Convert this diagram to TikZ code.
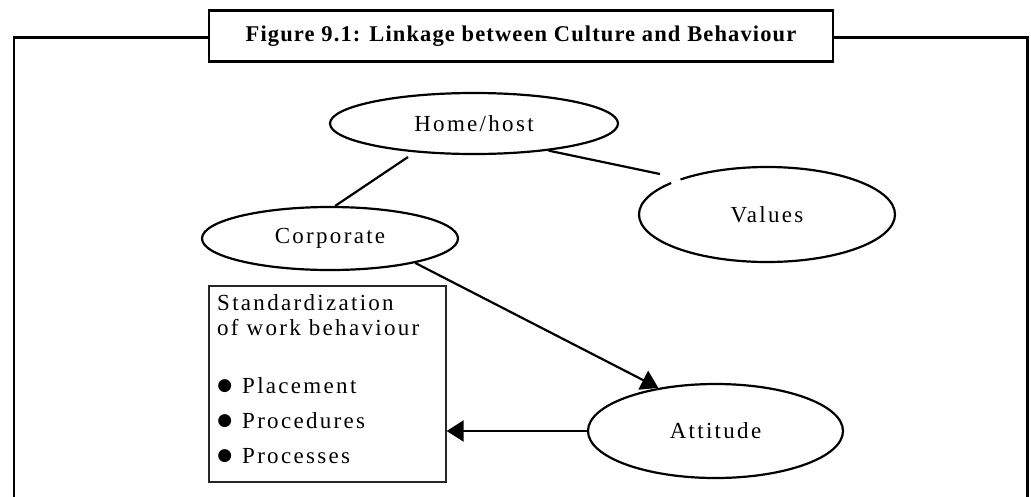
\documentclass[tikz,border=0pt]{standalone}
\usepackage{fontspec}
\setmainfont{Liberation Serif}
\newfontfamily\lblfont[LetterSpace=10]{Liberation Serif}
\newfontfamily\ttlfont[LetterSpace=5]{Liberation Serif}
\newfontfamily\symfont{DejaVu Sans}
\usetikzlibrary{shapes.geometric,arrows.meta}
\newcommand{\bigbul}{\makebox[15pt][c]{\raisebox{2.2pt}{\symfont\fontsize{17}{17}\selectfont ●}}\hspace{10pt}}
\tikzset{
  ell/.style={ellipse, draw, line width=2.2pt, inner sep=0pt, font=\lblfont\fontsize{23}{27}\selectfont},
  conn/.style={line width=2.2pt},
  arr/.style={line width=2.2pt, -{Triangle[length=17pt,width=21pt]}},
  boxtxt/.style={anchor=base west, inner sep=0pt, font=\lblfont\fontsize{23}{27}\selectfont},
  framebox/.style={line width=2.2pt},
}
\begin{document}
\begin{tikzpicture}[x=1pt,y=-1pt]
\useasboundingbox (0,0) rectangle (1031,496);
\clip (0,0) rectangle (1031,496);
% outer frame
\draw[framebox] (14,37.5) rectangle (1027.5,520);
% title box
\node[draw, fill=white, line width=2.6pt, minimum width=624pt, minimum height=51pt, inner sep=0pt,
      font=\ttlfont\bfseries\fontsize{22.5}{26}\selectfont] (title) at (521,36.2)
      {Figure 9.1: Linkage between Culture and Behaviour};
% ellipses
\node[ell, minimum width=288pt, minimum height=61pt] (home) at (474,123.5) {Home/host};
\node[ell, minimum width=256pt, minimum height=63pt] (corp) at (330,238.5) {Corporate};
\node[ell, minimum width=256pt, minimum height=95pt] (vals) at (767,214.5) {Values};
\node[ell, minimum width=255pt, minimum height=94pt] (att) at (715.5,431) {Attitude};
% gap in the Values outline
\draw[white, line width=4pt] (671.5,183.6) -- (680.5,179.8);
% box
\node[draw=black!85, line width=1.3pt, minimum width=237pt, minimum height=196pt, inner sep=0pt] (box) at (327.5,384) {};
\node[boxtxt] (t1) at (217,310) {Standardization};
\node[boxtxt] (t2) at (217,335) {of work behaviour};
\node[boxtxt] (p1) at (217,393) {\bigbul Placement};
\node[boxtxt] (p2) at (217,428) {\bigbul Procedures};
\node[boxtxt] (p3) at (217,463) {\bigbul Processes};
% connectors
\coordinate (hs) at (408,157);
\coordinate (ve) at (660,174);
\draw[conn] (hs) -- (corp.81);
\draw[conn] (home.-20) -- (ve);
\draw[arr] (corp.-16) -- (att.143);
\draw[arr] (att.west) -- (att.west -| box.east);
\end{tikzpicture}
\end{document}
